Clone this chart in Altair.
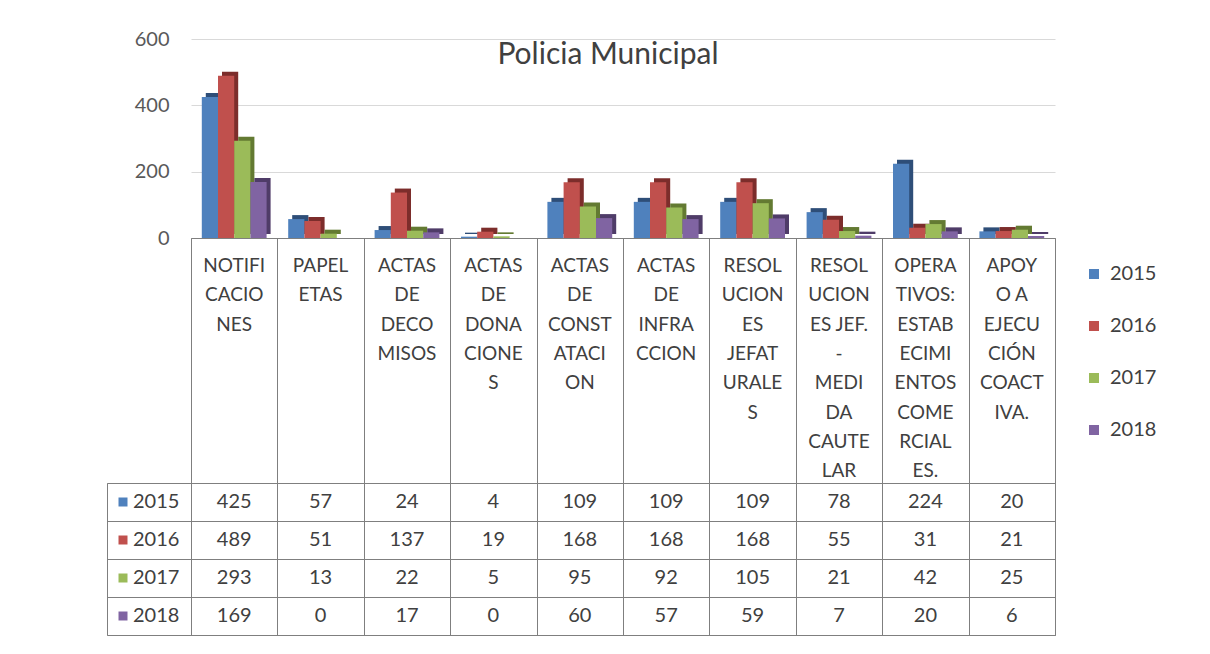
import altair as alt
import pandas as pd

categories = [
    "NOTIFI\nCACIO\nNES",
    "PAPEL\nETAS",
    "ACTAS\nDE\nDECO\nMISOS",
    "ACTAS\nDE\nDONA\nCIONE\nS",
    "ACTAS\nDE\nCONST\nATACI\nON",
    "ACTAS\nDE\nINFRA\nCCION",
    "RESOL\nUCION\nES\nJEFAT\nURALE\nS",
    "RESOL\nUCION\nES JEF.\n-\nMEDI\nDA\nCAUTE\nLAR",
    "OPERA\nTIVOS:\nESTAB\nECIMI\nENTOS\nCOME\nRCIAL\nES.",
    "APOY\nO A\nEJECU\nCIÓN\nCOACT\nIVA.",
]
years = ["2015", "2016", "2017", "2018"]
v2015 = [425, 57, 24, 4, 109, 109, 109, 78, 224, 20]
v2016 = [489, 51, 137, 19, 168, 168, 168, 55, 31, 21]
v2017 = [293, 13, 22, 5, 95, 92, 105, 21, 42, 25]
v2018 = [169, 0, 17, 0, 60, 57, 59, 7, 20, 6]
y_ticks = [0, 200, 400, 600]

colors = ["#4F81BD", "#C0504D", "#9BBB59", "#8064A2"]
side_colors = ["#2E4E78", "#7C2D2B", "#637A32", "#4F3C68"]

FONT = "Lato"
TXT = "#404040"
LINE = "#7f7f7f"

series = {"2015": v2015, "2016": v2016, "2017": v2017, "2018": v2018}
df = pd.DataFrame(
    [{"cat": c, "year": y, "value": vals[i]} for y, vals in series.items() for i, c in enumerate(categories)]
)
df_cat = pd.DataFrame({"cat": categories})
df_years = pd.DataFrame({"year": years})

W, HB, HH, HR, WL = 864, 199, 245, 152, 84
BAND = W / len(categories) * 0.75
DEPTH = 4

legend = alt.Legend(
    orient="none", legendX=893, legendY=225, title=None, symbolType="square",
    symbolSize=100, symbolStrokeWidth=0, labelFontSize=20, labelColor=TXT,
    labelFont=FONT, rowPadding=32, labelOffset=6,
)

x_bar = alt.X("cat:N", sort=categories,
              scale=alt.Scale(domain=categories, paddingInner=0.25, paddingOuter=0.125), axis=None)
y_bar = alt.Y("value:Q", scale=alt.Scale(domain=[0, 600]),
              axis=alt.Axis(values=y_ticks, grid=True, gridColor="#d9d9d9", domain=False, ticks=False,
                            labelPadding=22, labelFontSize=20, labelColor="#595959", labelFont=FONT,
                            title=None))

side = alt.Chart(df).mark_bar(yOffset=-DEPTH, y2Offset=-DEPTH).encode(
    x=x_bar, y=y_bar,
    xOffset=alt.XOffset("year:N", sort=years,
                        scale=alt.Scale(domain=years, range=[DEPTH, BAND + DEPTH],
                                        paddingInner=0, paddingOuter=0)),
    fill=alt.Fill("year:N", scale=alt.Scale(domain=years, range=side_colors), legend=None),
)
front = alt.Chart(df).mark_bar().encode(
    x=x_bar, y=y_bar,
    xOffset=alt.XOffset("year:N", sort=years,
                        scale=alt.Scale(domain=years, range=[0, BAND], paddingInner=0, paddingOuter=0)),
    color=alt.Color("year:N", scale=alt.Scale(domain=years, range=colors), legend=legend),
)
bars = alt.layer(side, front).resolve_scale(xOffset="independent").properties(
    width=W, height=HB,
    view=alt.ViewBackground(stroke="transparent"),
    title=alt.TitleParams("Policia Municipal", fontSize=30, font=FONT, fontWeight="normal",
                          color=TXT, anchor="middle", offset=-41, dx=-15),
)

x_tab = alt.X("cat:N", sort=categories,
              scale=alt.Scale(domain=categories, paddingInner=0, paddingOuter=0),
              axis=alt.Axis(grid=True, tickBand="extent", gridColor=LINE, labels=False, ticks=False,
                            domain=False, title=None))
y_tab = alt.Y("year:N", sort=years, scale=alt.Scale(domain=years, paddingInner=0, paddingOuter=0),
              axis=alt.Axis(grid=True, tickBand="extent", gridColor=LINE, labels=False, ticks=False,
                            domain=False, title=None))

header = alt.Chart(df_cat).mark_text(
    baseline="top", lineBreak="\n", lineHeight=29.3, fontSize=19, color=TXT, font=FONT
).encode(x=x_tab, y=alt.value(19), text="cat:N").properties(
    width=W, height=HH, view=alt.ViewBackground(stroke=LINE))

rows = alt.Chart(df).mark_text(fontSize=20, color=TXT, font=FONT).encode(
    x=x_tab, y=y_tab, text="value:Q"
).properties(width=W, height=HR, view=alt.ViewBackground(stroke=LINE))

rh_base = alt.Chart(df_years).encode(y=y_tab)
rh_sq = rh_base.mark_point(shape="square", filled=True, size=81, opacity=1).encode(
    x=alt.value(16), color=alt.Color("year:N", scale=alt.Scale(domain=years, range=colors), legend=None))
rh_tx = rh_base.mark_text(align="left", fontSize=20, color=TXT, font=FONT).encode(
    x=alt.value(26), text="year:N")
rowhead = alt.layer(rh_sq, rh_tx).properties(width=WL, height=HR, view=alt.ViewBackground(stroke=LINE))


def spacer(h):
    return alt.Chart(pd.DataFrame({"a": [0]})).mark_point(opacity=0).encode(
        x=alt.value(0), y=alt.value(0)).properties(width=WL, height=h,
                                                    view=alt.ViewBackground(stroke="transparent"))


chart = alt.concat(
    spacer(HB), bars,
    spacer(HH), header,
    rowhead, rows,
    columns=2, spacing=0, bounds="flush",
).resolve_scale(x="independent", y="independent", color="independent").properties(
    padding={"left": 95, "top": 20, "right": 10, "bottom": 5},
    background="white",
).configure(font=FONT)

chart.save("out.html", embed_options={"renderer": "svg", "actions": False})
